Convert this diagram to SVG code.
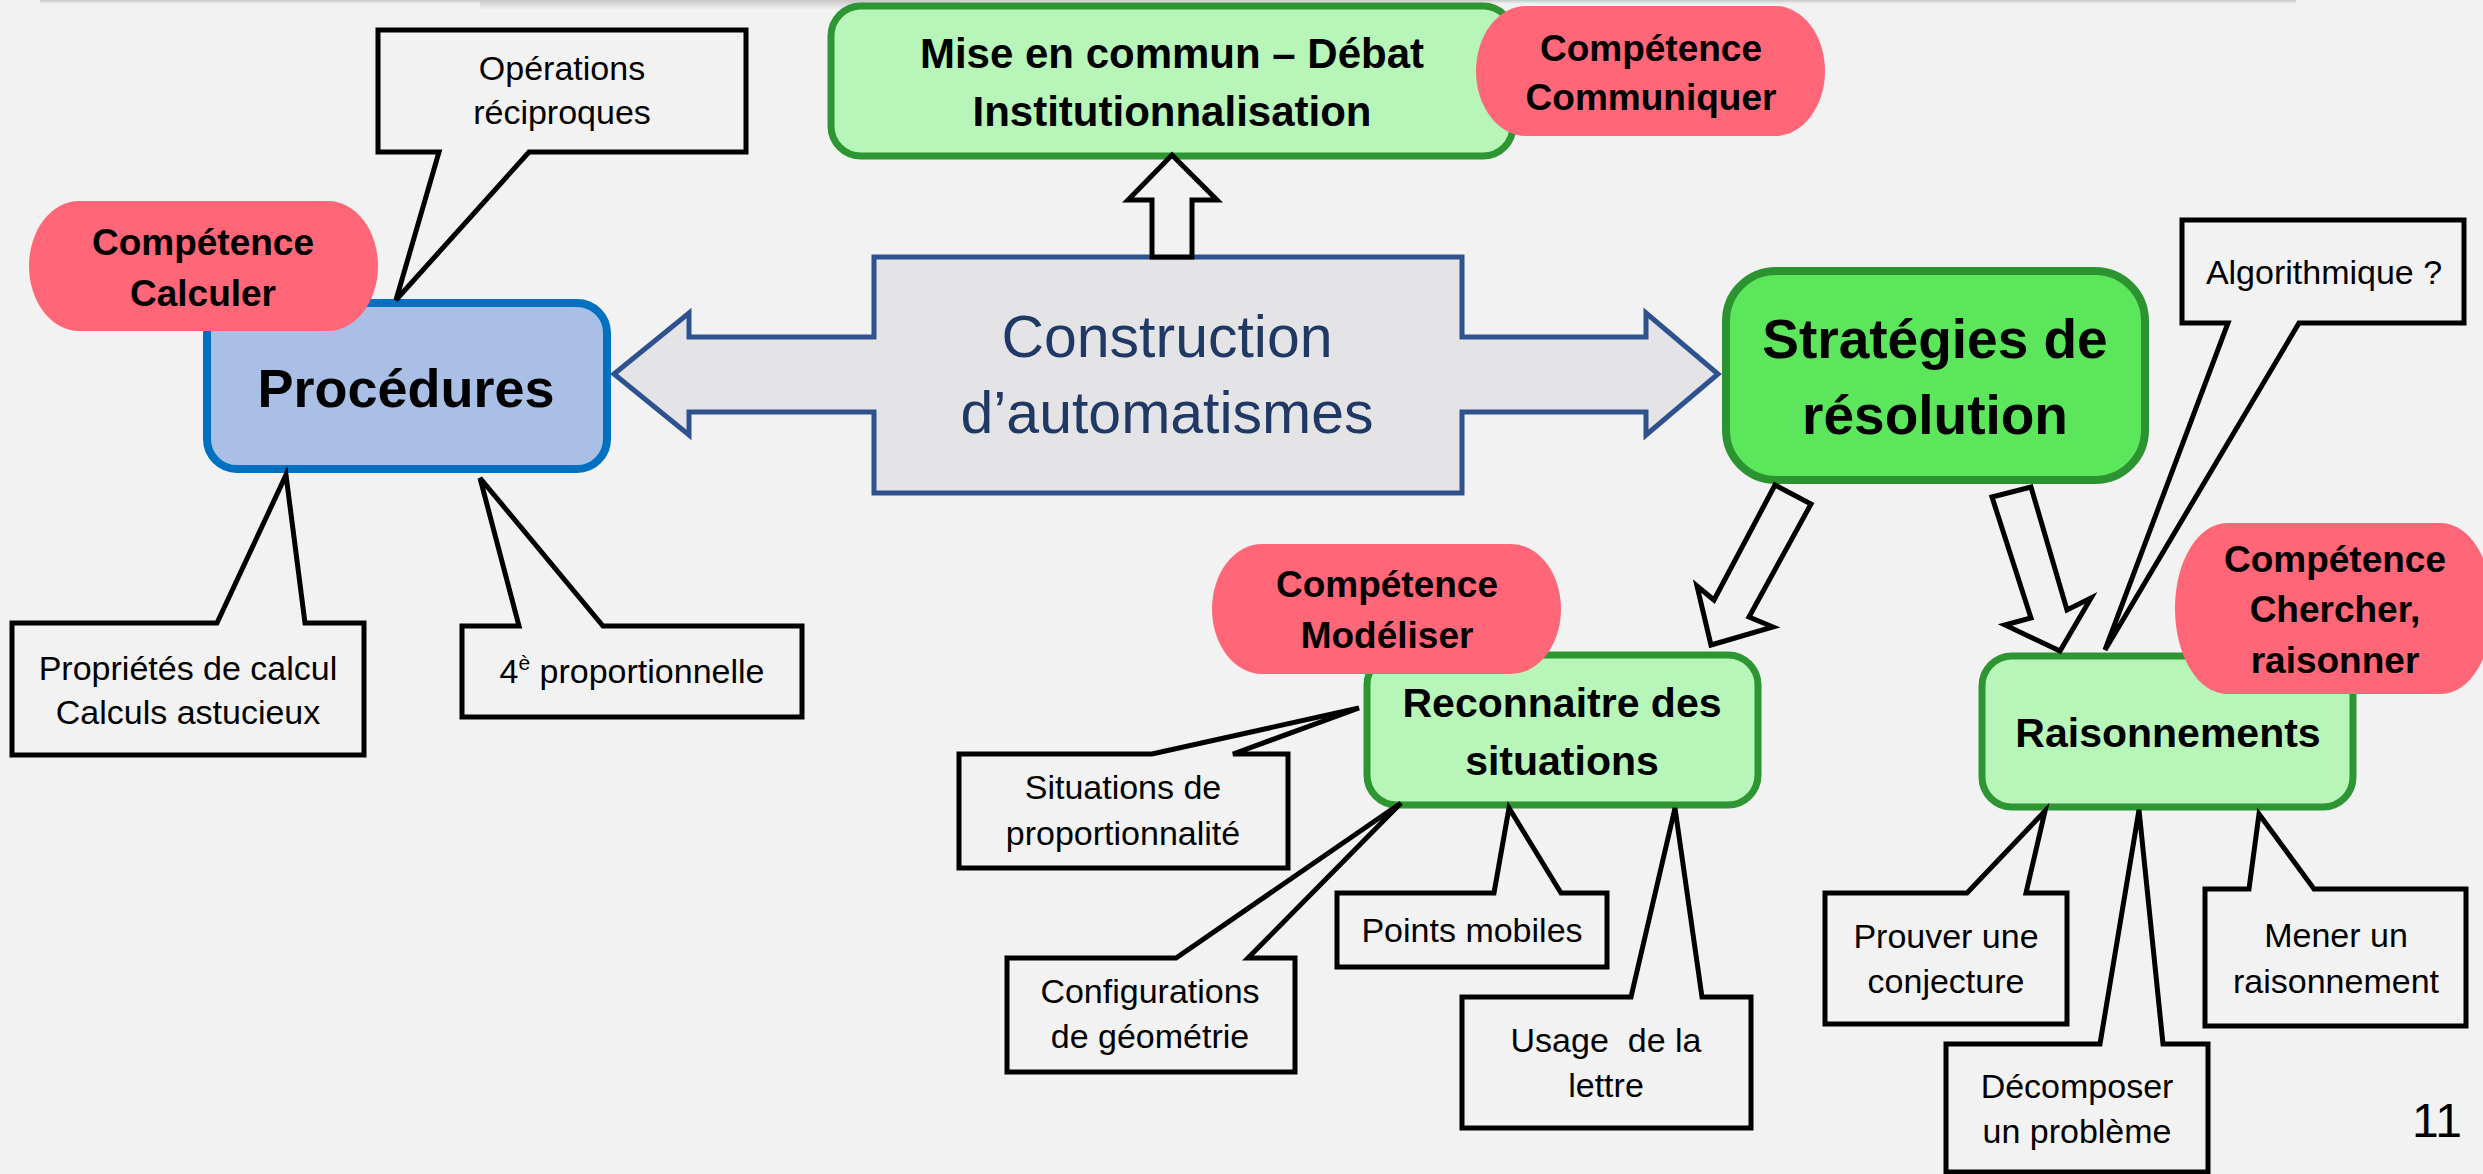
<svg xmlns="http://www.w3.org/2000/svg" width="2483" height="1174" viewBox="0 0 2483 1174">
<defs>
<linearGradient id="topShade" x1="0" y1="0" x2="0" y2="1">
<stop offset="0" stop-color="#c8c8c8"/>
<stop offset="1" stop-color="#f2f2f2"/>
</linearGradient>
<style>
.t{font-family:'Liberation Sans',Arial,sans-serif;text-anchor:middle;fill:#000}
.r34{font-size:34px}
.b37{font-size:37px;font-weight:bold}
.b41{font-size:41px;font-weight:bold}
.b42{font-size:42px;font-weight:bold}
.callout{fill:#f2f2f2;stroke:#000;stroke-width:5;stroke-linejoin:miter}
.blk{fill:#f2f2f2;stroke:#000;stroke-width:5;stroke-linejoin:miter}
.pill{fill:#ff6677}
.lg{fill:#b8f5b8;stroke:#2d9632;stroke-width:7}
</style>
</defs>
<rect x="0" y="0" width="2483" height="1174" fill="#f2f2f2"/>
<rect x="40" y="0" width="2256" height="4" fill="url(#topShade)"/>
<rect x="480" y="0" width="480" height="10" fill="url(#topShade)"/>

<g id="construction">
<polygon points="614,374 689,313 689,337 874,337 874,257 1462,257 1462,337 1646,337 1646,313 1718,374 1646,435 1646,412 1462,412 1462,493 874,493 874,412 689,412 689,435" fill="#e4e3e6" stroke="#2f528f" stroke-width="5" stroke-linejoin="miter"/>
<text class="t" x="1167" y="357" style="font-size:59px;fill:#203864">Construction</text>
<text class="t" x="1167" y="433" style="font-size:59px;fill:#203864">d’automatismes</text>
</g>

<g id="procedures">
<rect x="207" y="303" width="400" height="166" rx="30" fill="#a9bfe5" stroke="#0070c0" stroke-width="8"/>
<text class="t" x="406" y="407" style="font-size:54px;font-weight:bold">Procédures</text>
</g>

<g id="mise-en-commun">
<rect x="831" y="6" width="682" height="150" rx="30" class="lg"/>
<text class="t b42" x="1172" y="68">Mise en commun – Débat</text>
<text class="t b42" x="1172" y="126">Institutionnalisation</text>
</g>

<g id="strategies">
<rect x="1726" y="271" width="419" height="209" rx="50" fill="#5ce65c" stroke="#2b9430" stroke-width="8"/>
<text class="t" x="1935" y="358" style="font-size:55px;font-weight:bold">Stratégies de</text>
<text class="t" x="1935" y="434" style="font-size:55px;font-weight:bold">résolution</text>
</g>

<g id="reconnaitre">
<rect x="1367" y="655" width="391" height="150" rx="30" class="lg"/>
<text class="t b41" x="1562" y="717">Reconnaitre des</text>
<text class="t b41" x="1562" y="775">situations</text>
</g>

<g id="raisonnements">
<rect x="1982" y="656" width="371" height="151" rx="30" class="lg"/>
<text class="t b41" x="2168" y="747">Raisonnements</text>
</g>

<g id="competence-calculer">
<rect x="29" y="201" width="349" height="130" rx="50" ry="65" class="pill"/>
<text class="t b37" x="203" y="255">Compétence</text>
<text class="t b37" x="203" y="306">Calculer</text>
</g>

<g id="competence-communiquer">
<rect x="1476" y="6" width="349" height="130" rx="50" ry="65" class="pill"/>
<text class="t b37" x="1651" y="61">Compétence</text>
<text class="t b37" x="1651" y="110">Communiquer</text>
</g>

<g id="competence-modeliser">
<rect x="1212" y="544" width="349" height="130" rx="50" ry="65" class="pill"/>
<text class="t b37" x="1387" y="597">Compétence</text>
<text class="t b37" x="1387" y="648">Modéliser</text>
</g>

<g id="competence-chercher">
<rect x="2175" y="523" width="318" height="171" rx="52" ry="85" class="pill"/>
<text class="t b37" x="2335" y="572">Compétence</text>
<text class="t b37" x="2335" y="622">Chercher,</text>
<text class="t b37" x="2335" y="673">raisonner</text>
</g>

<g id="callout-operations">
<polygon class="callout" points="378,30 746,30 746,152 529,152 396,300 439,152 378,152"/>
<text class="t r34" x="562" y="80">Opérations</text>
<text class="t r34" x="562" y="124">réciproques</text>
</g>

<g id="callout-algorithmique">
<polygon class="callout" points="2182,220 2464,220 2464,323 2299,323 2105,650 2228,323 2182,323"/>
<text class="t r34" x="2324" y="284">Algorithmique ?</text>
</g>

<g id="callout-proprietes">
<polygon class="callout" points="12,623 217,623 286,475 305,623 364,623 364,755 12,755"/>
<text class="t r34" x="188" y="680">Propriétés de calcul</text>
<text class="t r34" x="188" y="724">Calculs astucieux</text>
</g>

<g id="callout-quatrieme">
<polygon class="callout" points="462,626 519,626 480,478 603,626 802,626 802,717 462,717"/>
<text class="t r34" x="632" y="683">4<tspan style="font-size:21px" dy="-13">è</tspan><tspan dy="13"> proportionnelle</tspan></text>
</g>

<g id="callout-situations">
<polygon class="callout" points="959,754 1152,754 1359,708 1233,754 1288,754 1288,868 959,868"/>
<text class="t r34" x="1123" y="799">Situations de</text>
<text class="t r34" x="1123" y="845">proportionnalité</text>
</g>

<g id="callout-configurations">
<polygon class="callout" points="1007,958 1176,958 1401,803 1248,958 1295,958 1295,1072 1007,1072"/>
<text class="t r34" x="1150" y="1003">Configurations</text>
<text class="t r34" x="1150" y="1048">de géométrie</text>
</g>

<g id="callout-points">
<polygon class="callout" points="1337,893 1494,893 1509,808 1561,893 1607,893 1607,967 1337,967"/>
<text class="t r34" x="1472" y="942">Points mobiles</text>
</g>

<g id="callout-usage">
<polygon class="callout" points="1462,997 1631,997 1675,808 1702,997 1751,997 1751,1128 1462,1128"/>
<text class="t r34" x="1606" y="1052" style="white-space:pre">Usage  de la</text>
<text class="t r34" x="1606" y="1097">lettre</text>
</g>

<g id="callout-prouver">
<polygon class="callout" points="1825,893 1967,893 2045,811 2026,893 2067,893 2067,1024 1825,1024"/>
<text class="t r34" x="1946" y="948">Prouver une</text>
<text class="t r34" x="1946" y="993">conjecture</text>
</g>

<g id="callout-decomposer">
<polygon class="callout" points="1946,1044 2100,1044 2139,810 2163,1044 2208,1044 2208,1172 1946,1172"/>
<text class="t r34" x="2077" y="1098">Décomposer</text>
<text class="t r34" x="2077" y="1143">un problème</text>
</g>

<g id="callout-mener">
<polygon class="callout" points="2205,889 2249,889 2259,814 2314,889 2466,889 2466,1026 2205,1026"/>
<text class="t r34" x="2336" y="947">Mener un</text>
<text class="t r34" x="2336" y="993">raisonnement</text>
</g>

<g id="connectors">
<polygon class="blk" points="1152,257 1152,200 1128,200 1172,155 1217,200 1192,200 1192,257"/>
<polygon class="blk" points="1775,485 1811,504 1749,617 1773,627 1711,645 1697,586 1714,600"/>
<polygon class="blk" points="1992,497 2031,487 2067,610 2091,598 2060,651 2005,625 2031,618"/>
</g>

<text class="t" x="2437" y="1137" style="font-size:48px">11</text>
</svg>
